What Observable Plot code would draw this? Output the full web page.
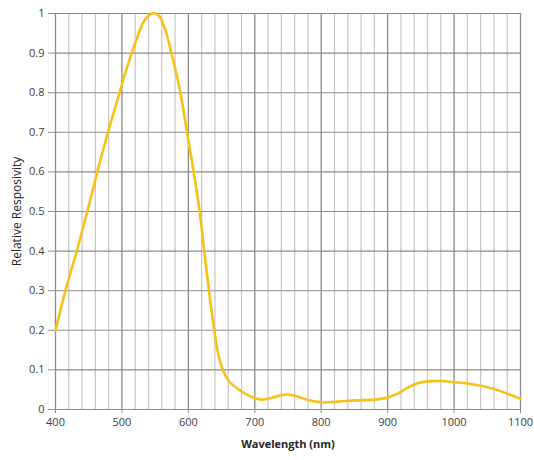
<!DOCTYPE html>
<html>
<head>
<meta charset="utf-8">
<script src="https://cdn.jsdelivr.net/npm/d3@7"></script>
<script src="https://cdn.jsdelivr.net/npm/@observablehq/plot@0.6"></script>
<style>
body { margin: 0; background: #fff; }
#chart svg { display: block; }
</style>
</head>
<body>
<div id="chart"></div>
<script>
const wavelength = [400, 415, 432, 448, 463, 479, 493, 506, 520, 533, 545, 555, 565, 576, 588, 598, 608, 617, 624, 631, 639, 645, 652, 662, 678, 695, 710, 725, 740, 750, 762, 780, 800, 825, 850, 880, 900, 915, 930, 945, 960, 980, 1000, 1030, 1060, 1080, 1100];
const responsivity = [0.2, 0.3, 0.4, 0.5, 0.6, 0.7, 0.78, 0.855, 0.925, 0.98, 1.0, 0.995, 0.96, 0.89, 0.8, 0.7, 0.6, 0.5, 0.4, 0.3, 0.2, 0.14, 0.1, 0.07, 0.048, 0.032, 0.025, 0.029, 0.036, 0.038, 0.034, 0.024, 0.018, 0.02, 0.023, 0.025, 0.03, 0.04, 0.055, 0.066, 0.071, 0.072, 0.069, 0.063, 0.052, 0.04, 0.027];
const xTicks = [400, 500, 600, 700, 800, 900, 1000, 1100];
const xMinor = d3.range(420, 1100, 20).filter(v => v % 100 !== 0);
const yTicks = [0, 0.1, 0.2, 0.3, 0.4, 0.5, 0.6, 0.7, 0.8, 0.9, 1];
const yLabels = ["0", "0.1", "0.2", "0.3", "0.4", "0.5", "0.6", "0.7", "0.8", "0.9", "1"];

const data = wavelength.map((w, i) => ({w, r: responsivity[i]}));

const chart = Plot.plot({
  width: 534,
  height: 460,
  marginLeft: 55,
  marginRight: 14,
  marginTop: 13,
  marginBottom: 51,
  style: {fontFamily: "'Open Sans', 'DejaVu Sans', sans-serif", fontSize: "11px", color: "#404040", background: "#fff"},
  x: {domain: [400, 1100]},
  y: {domain: [0, 1]},
  marks: [
    Plot.ruleX(xMinor, {stroke: "#c6c6c6", strokeWidth: 1.2}),
    Plot.ruleY(yTicks, {stroke: "#8c8c8c", strokeWidth: 1.1}),
    Plot.ruleX(xTicks, {stroke: "#8c8c8c", strokeWidth: 1.3}),
    Plot.axisY(yTicks, {tickSize: 7, tickPadding: 4, stroke: "#8c8c8c", tickFormat: (d, i) => yLabels[i], label: null, fontSize: 11, fill: "#404040"}),
    Plot.axisX(xTicks, {tickSize: 4, tickPadding: 5, stroke: "#8c8c8c", tickFormat: d => String(d), label: null, fontSize: 11, fill: "#404040"}),
    Plot.text(["Relative Resposivity"], {frameAnchor: "left", textAnchor: "middle", dx: -38, rotate: -90, fontSize: 12, fill: "#262626"}),
    Plot.text(["Wavelength (nm)"], {frameAnchor: "bottom", dy: 38, fontWeight: "bold", fontSize: 11, fill: "#262626"}),
    Plot.line(data, {x: "w", y: "r", stroke: "#F5C21A", strokeWidth: 2.6, curve: "catmull-rom"})
  ]
});
document.getElementById("chart").appendChild(chart);
</script>
</body>
</html>
